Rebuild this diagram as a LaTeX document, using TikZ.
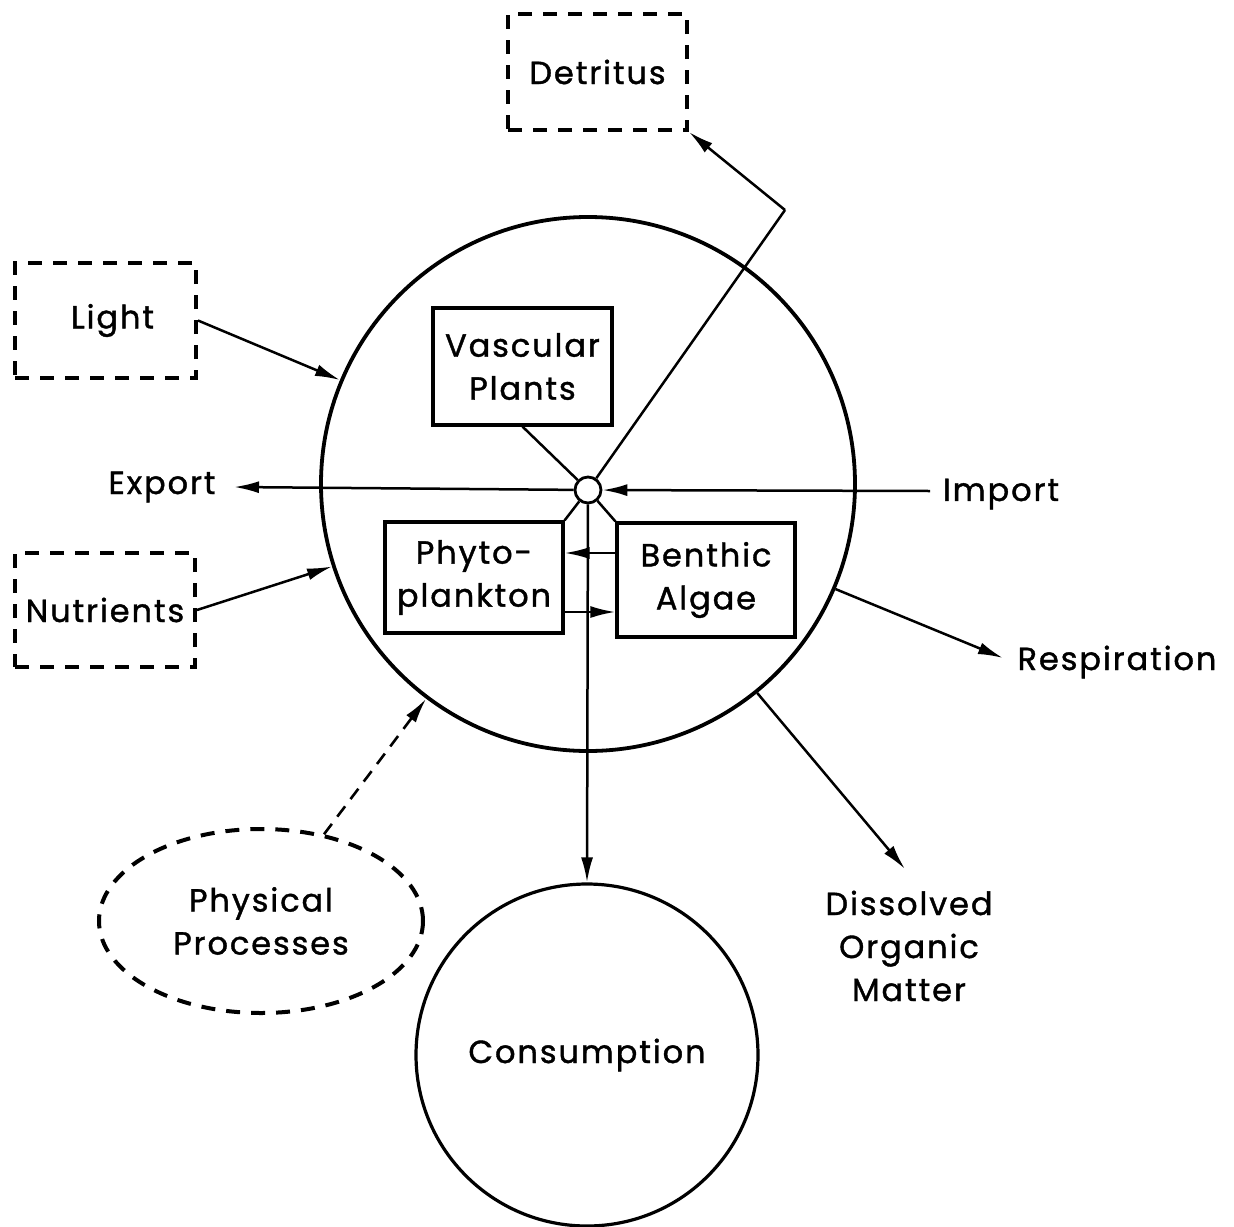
\documentclass[tikz,border=0pt]{standalone}
\usepackage{fontspec}
\setmainfont[LetterSpace=6,FakeBold=1.2]{Poppins}
\usetikzlibrary{arrows.meta,shapes.geometric}
\begin{document}
\begin{tikzpicture}[x=1pt,y=-1pt,
  lbl/.style={font=\fontsize{32}{43}\selectfont, inner sep=0pt, align=center},
  solidbox/.style={lbl, draw, line width=3.2pt, rectangle},
  dashbox/.style={lbl, draw, line width=4pt, dash pattern=on 14pt off 11pt, rectangle},
  thinln/.style={line width=2.5pt},
  arr/.style={thinln, -{Latex[length=25pt,width=12pt]}},
  dasharr/.style={line width=2.6pt, dash pattern=on 13pt off 9pt, -{Latex[length=25pt,width=12pt]}}
]
\useasboundingbox (0,0) rectangle (1234,1226);
\fill[white] (0,0) rectangle (1234,1226);

% main circles
\node[circle, draw, line width=3.8pt, minimum size=534pt, inner sep=0pt] (main) at (588,484) {};
\node[circle, draw, line width=3.2pt, minimum size=342pt, inner sep=0pt, lbl] (cons) at (587,1055) {Consumption};
\node[circle, draw, line width=2.8pt, minimum size=26pt, inner sep=0pt] (j) at (588,490) {};

% boxes
\node[solidbox, minimum width=179pt, minimum height=117pt] (vasc) at (522.5,366.5) {Vascular\\Plants};
\node[solidbox, minimum width=178pt, minimum height=111pt] (phyto) at (474,577.5) {Phyto-\\plankton};
\node[solidbox, minimum width=178pt, minimum height=114pt] (benth) at (706,580) {Benthic\\Algae};

\node[dashbox, minimum width=179pt, minimum height=116pt] (detr) at (597.5,72) {Detritus};
\node[dashbox, minimum width=181pt, minimum height=115pt] (light) at (105.5,320.5) {\hspace*{14pt}Light};
\node[dashbox, minimum width=180pt, minimum height=114pt] (nutr) at (105,610) {Nutrients};
\node[ellipse, lbl, draw, line width=4pt, dash pattern=on 14pt off 11pt, minimum width=324pt, minimum height=184pt] (phys) at (261,921) {Physical\\Processes};

% free labels
\node[lbl] (export) at (162,487) {Export};
\node[lbl] (import) at (1001,494) {Import};
\node[lbl] (resp) at (1117,662) {Respiration};
\node[lbl] (dom) at (909,946) {Dissolved\\Organic\\Matter};

% coordinates
\coordinate (expE) at (234,487);
\coordinate (impW) at (930,491);
\coordinate (bend) at (785,210);
\coordinate (respW) at (1003,658);
\coordinate (domN) at (905,869);

% connectors
\draw[arr] (impW) -- (j);
\draw[arr] (j) -- (expE);
\draw[thinln] (vasc.south) -- (j);
\draw[thinln] (j) -- (bend);
\draw[arr] (bend) -- (detr.south east);
\draw[thinln] (j) -- (phyto.north east);
\draw[thinln] (j) -- (benth.north west);
\draw[arr] (j) -- (cons.north);
\draw[arr] (benth.west |- 0,553) -- (phyto.east |- 0,553);
\draw[arr] (phyto.east |- 0,612) -- (benth.west |- 0,612);
\draw[arr] (light.east) -- (main);
\draw[arr] (nutr.east) -- (main);
\draw[arr] (main.-23.5) -- (respW);
\draw[arr] (main.-51) -- (domN);
\draw[dasharr] (phys.54.8) -- (main.-127);
\end{tikzpicture}
\end{document}
